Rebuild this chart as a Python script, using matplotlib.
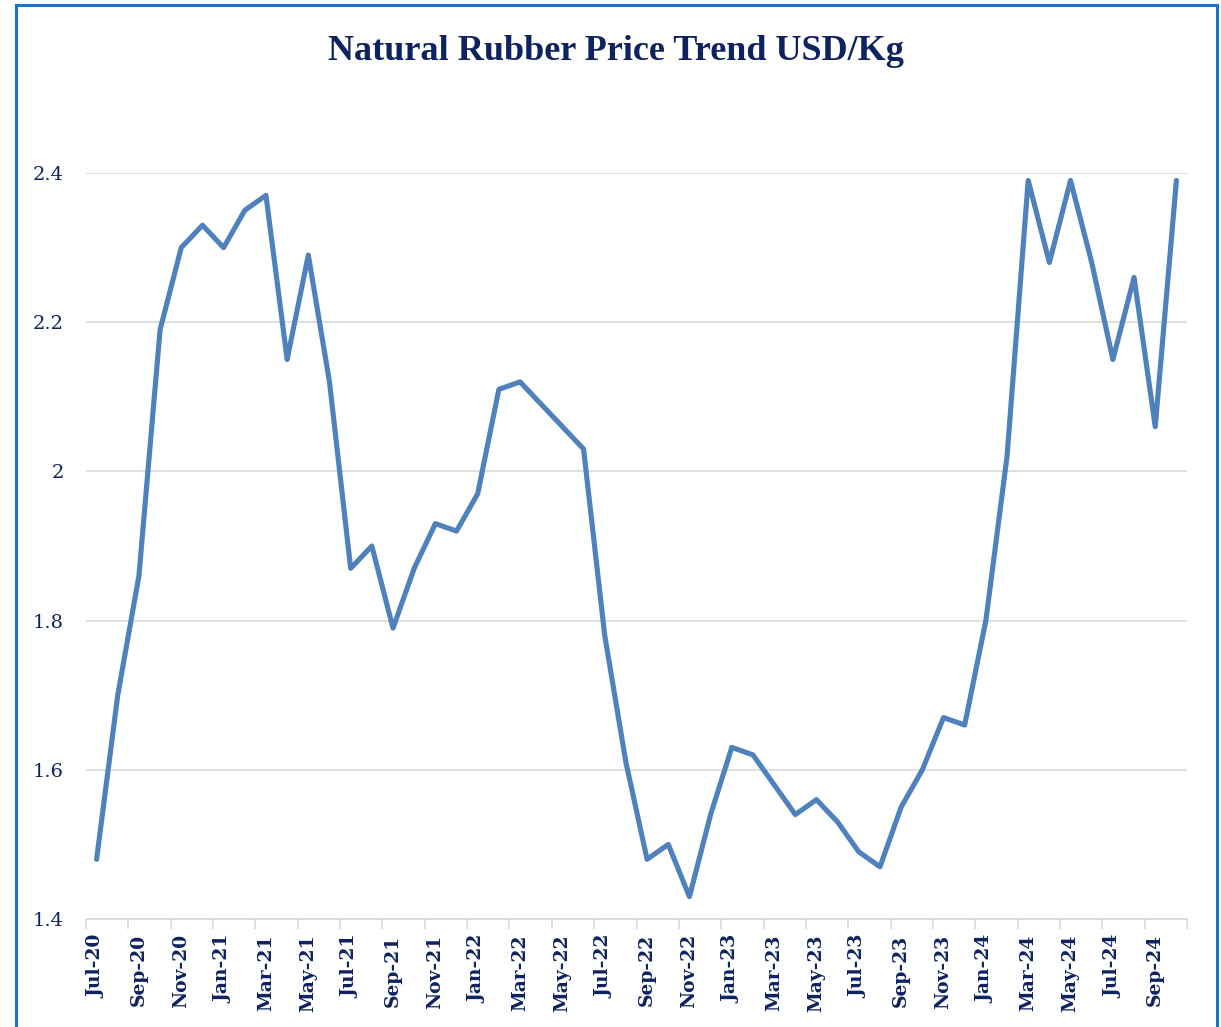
import matplotlib
matplotlib.use("Agg")
import matplotlib.pyplot as plt
from matplotlib.patches import Rectangle
import numpy as np

months = ["Jul-20","Aug-20","Sep-20","Oct-20","Nov-20","Dec-20",
          "Jan-21","Feb-21","Mar-21","Apr-21","May-21","Jun-21",
          "Jul-21","Aug-21","Sep-21","Oct-21","Nov-21","Dec-21",
          "Jan-22","Feb-22","Mar-22","Apr-22","May-22","Jun-22",
          "Jul-22","Aug-22","Sep-22","Oct-22","Nov-22","Dec-22",
          "Jan-23","Feb-23","Mar-23","Apr-23","May-23","Jun-23",
          "Jul-23","Aug-23","Sep-23","Oct-23","Nov-23","Dec-23",
          "Jan-24","Feb-24","Mar-24","Apr-24","May-24","Jun-24",
          "Jul-24","Aug-24","Sep-24","Oct-24"]
prices = [1.48, 1.70, 1.86, 2.19, 2.30, 2.33,
          2.30, 2.35, 2.37, 2.15, 2.29, 2.12,
          1.87, 1.90, 1.79, 1.87, 1.93, 1.92,
          1.97, 2.11, 2.12, 2.09, 2.06, 2.03,
          1.78, 1.61, 1.48, 1.50, 1.43, 1.54,
          1.63, 1.62, 1.58, 1.54, 1.56, 1.53,
          1.49, 1.47, 1.55, 1.60, 1.67, 1.66,
          1.80, 2.02, 2.39, 2.28, 2.39, 2.28,
          2.15, 2.26, 2.06, 2.39]
y_ticks = [1.4, 1.6, 1.8, 2.0, 2.2, 2.4]
y_tick_labels = ["1.4", "1.6", "1.8", "2", "2.2", "2.4"]
title = "Natural Rubber Price Trend USD/Kg"

navy = "#0D2260"
grid_c = "#D9D9D9"
line_c = "#4F81BD"
tick_font = "DejaVu Serif"
title_font = "Liberation Serif"

fig = plt.figure(figsize=(12.21, 10.27), dpi=100)
ax = fig.add_axes([86/1221, 108/1027, 1101/1221, 746/1027])

x = np.arange(len(months))
ax.plot(x, prices, color=line_c, lw=3.7, solid_joinstyle="round",
        solid_capstyle="round", clip_on=False, zorder=3)

ax.set_xlim(-0.5, len(months) - 0.5)
ax.set_ylim(1.4, 2.4)
ax.set_yticks(y_ticks)
ax.set_yticklabels(y_tick_labels, fontsize=14, color=navy, fontname=tick_font)
ax.yaxis.grid(True, color=grid_c, lw=1.2)
ax.set_axisbelow(True)
ax.tick_params(axis="y", length=0, pad=16)

ax.set_xticks(x[::2])
ax.set_xticklabels(months[::2], rotation=90, fontsize=13.5, fontweight="bold",
                   color=navy, fontname=tick_font, ha="center", va="top")
ax.set_xticks(np.arange(-0.5, len(months), 2), minor=True)
ax.tick_params(axis="x", which="major", length=0, pad=11)
ax.tick_params(axis="x", which="minor", length=7, color=grid_c, width=1.2)

for s in ["top", "right", "left"]:
    ax.spines[s].set_visible(False)
ax.spines["bottom"].set_color(grid_c)
ax.spines["bottom"].set_linewidth(1.2)

fig.text(616/1221, 1 - 51/1027, title, fontsize=26, fontweight="bold",
         color=navy, fontname=title_font, ha="center", va="center")

fig.patches.append(Rectangle((16/1221, -0.05), 1201/1221, 1.05 - 5/1027,
                             transform=fig.transFigure, fill=False,
                             edgecolor="#1A73C8", lw=2.2))

fig.savefig("out.png", dpi=100)
